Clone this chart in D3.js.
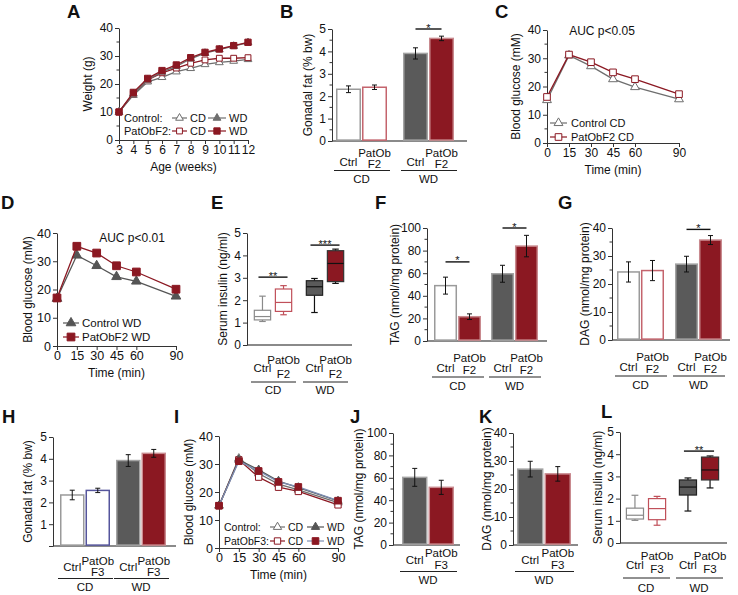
<!DOCTYPE html>
<html><head><meta charset="utf-8">
<script src="https://cdn.jsdelivr.net/npm/d3@7"></script>
<style>
body{margin:0;background:#fff}
svg{font-family:"Liberation Sans",Arial,Helvetica,sans-serif}
</style></head>
<body><svg id="c" width="738" height="595"></svg>
<script>
// ---------------- DATA ----------------
// Panel A: body weight
const weeks = [3,4,5,6,7,8,9,10,11,12];
const weightControlCD = [10,16,20.8,22.4,24.4,25.6,27,27.7,28.2,28.8];
const weightControlWD = [10,16.5,21.5,24.3,26.3,29,31,32.3,33.5,34.8];
const weightPatObF2CD = [10,16.5,21.5,24,25.7,27.4,28.6,29.2,29.2,29.4];
const weightPatObF2WD = [10,17,22,24.8,26.8,29.4,31.3,32.5,33.7,34.9];
const weightTicks = [0,10,20,30,40];

// GTT panels C, D, I
const gttTimes = [0,15,30,45,60,90];
const glucoseTicks = [0,10,20,30,40];
const gttControlCD_F2 = [15.2,31,27.2,22.6,19.8,15.5];
const gttPatObF2CD   = [16.3,31.3,28.6,25,22.6,17.3];
const gttControlWD_F2 = [16.8,32.1,28.4,24.5,22.9,17.6];
const gttPatObF2WD   = [17,35.3,32.9,28.4,26.2,20.1];
const gttControlCD_F3 = [15.1,32,26.6,22.8,20.8,16.2];
const gttControlWD_F3 = [15.1,31.5,27.9,23.9,21.6,16.8];
const gttPatObF3CD   = [15.1,31.5,25.3,21.7,20.2,15.4];
const gttPatObF3WD   = [15.1,31,27.5,23.6,21.8,16.9];

// categories
const diets = ['CD','WD'];
const dietWD = ['WD'];
const subKeys = ['Ctrl','PatOb'];

// Bar panels (order: Ctrl CD, PatOb CD, Ctrl WD, PatOb WD)
const gonadalF2 = [2.31,2.4,3.91,4.58];      const gonadalF2Err = [0.15,0.1,0.25,0.1];
const tagF2 = [49,21.5,59.5,84];             const tagF2Err = [7.5,2.5,7.5,9.5];
const dagF2 = [24.3,24.8,27.1,35.7];         const dagF2Err = [3.6,3.6,2.8,1.6];
const gonadalF3 = [2.34,2.55,3.92,4.25];     const gonadalF3Err = [0.22,0.1,0.27,0.18];
const tagF3 = [60.4,51.5];                   const tagF3Err = [8,6.3];     // WD only
const dagF3 = [27.1,25.4];                   const dagF3Err = [2.8,2.6];   // WD only
const ticks0to5 = [0,1,2,3,4,5];
const ticks0to100 = [0,20,40,60,80,100];
const ticks0to40 = [0,10,20,30,40];

// Box panels E, L: [min, q1, median, q3, max]
const insulinF2 = [[1.05,1.12,1.27,1.55,2.18],[1.35,1.5,1.9,2.5,2.65],[1.45,2.22,2.6,2.87,2.97],[2.75,2.83,3.64,4.21,4.28]];
const insulinF3 = [[1.02,1.08,1.25,1.57,2.15],[0.8,1.05,1.55,2.0,2.1],[1.44,2.16,2.52,2.84,2.93],[2.48,2.84,3.29,3.87,3.92]];

// ---------------- STYLE ----------------
const FONT = '"Liberation Sans",Arial,Helvetica,sans-serif';
const RED = '#8b1822', DARK = '#5a5a5a', GRAYL = '#6e6e6e';
const S_CTRL_CD = {fill:'#fff', stroke:'#9a9a9a'};
const S_PAT_CD  = {fill:'#fff', stroke:'#c4646d'};
const S_PAT3_CD = {fill:'#fff', stroke:'#55559c'};
const S_CTRL_WD = {fill:DARK, stroke:'#a3a3a3'};
const S_PAT_WD  = {fill:RED, stroke:'#c98a8f'};
const B_CTRL_CD = {fill:'#fff', stroke:'#8a8a8a', med:'#8a8a8a'};
const B_PAT_CD  = {fill:'#fff', stroke:'#c0505a', med:'#c0505a'};
const B_CTRL_WD = {fill:DARK, stroke:'#222', med:'#111'};
const B_PAT_WD  = {fill:RED, stroke:'#333', med:'#111'};
const LBL = 11.5;

const svg = d3.select('#c');

function txt(x,y,t,opt={}){
  const e = svg.append('text').attr('x',x).attr('y',y).text(t)
    .attr('font-size',opt.size||11.5).attr('text-anchor',opt.anchor||'start')
    .attr('fill',opt.fill||'#111').attr('font-family',FONT);
  if(opt.weight) e.attr('font-weight',opt.weight);
  if(opt.rotate) e.attr('transform',`rotate(-90,${x},${y})`);
  if(opt.dy) e.attr('dy',opt.dy);
  return e;
}
function letter(t,x,y){ txt(x,y,t,{size:18.5,weight:'bold'}); }
function yTitle(x,cy,t,size){ txt(x,cy,t,{anchor:'middle',rotate:true,dy:'0.35em',size:size||12}); }

function drawYAxis(y,x0,ticks,minorStep,hideZero,fs){
  const ax = d3.axisLeft(y).tickValues(ticks).tickSize(4).tickSizeOuter(0).tickPadding(2)
    .tickFormat(d => (hideZero && d===0) ? '' : d3.format('~g')(d));
  const g = svg.append('g').attr('transform',`translate(${x0},0)`).call(ax);
  g.selectAll('text').attr('font-size',fs||12).attr('fill','#111').attr('font-family',FONT);
  g.selectAll('line,path').attr('stroke','#333');
  if(minorStep){
    const [a,b] = y.domain();
    const minors = d3.range(a,b+1e-9,minorStep).filter(v=>!ticks.some(t=>Math.abs(t-v)<1e-9));
    g.selectAll('.mn').data(minors).join('line').attr('class','mn')
      .attr('x1',-2.5).attr('x2',0).attr('y1',d=>y(d)).attr('y2',d=>y(d)).attr('stroke','#333');
  }
}

function scalesFor(c){
  const y = d3.scaleLinear().domain([0,c.max]).range([c.yBot,c.yTop]);
  const n = c.groups.length;
  const outer = d3.scaleBand().domain(c.groups)
    .range([c.start, c.start + n*c.W + (n-1)*(c.gap||0)])
    .paddingInner(n>1 ? c.gap/(c.W+c.gap) : 0);
  const inner = d3.scaleBand().domain(subKeys).range([0,outer.bandwidth()]).paddingInner(c.innerPad ?? 0.04);
  return {y,outer,inner};
}
function center(outer,inner,i,groups){
  return outer(groups[Math.floor(i/2)]) + inner(subKeys[i%2]) + inner.bandwidth()/2;
}
function catLabels(c,outer,inner){
  const o = c.offs;
  c.groups.forEach(gk=>{
    const gx = outer(gk);
    subKeys.forEach((sk,i)=>{
      const cx = gx + inner(sk) + inner.bandwidth()/2;
      if(i===0) txt(cx,c.yBot+o.ctrl,'Ctrl',{anchor:'middle',size:LBL});
      else { txt(cx,c.yBot+o.pat,'PatOb',{anchor:'middle',size:LBL}); txt(cx,c.yBot+o.f,c.gen,{anchor:'middle',size:LBL}); }
    });
    svg.append('line').attr('x1',gx-2).attr('x2',gx+outer.bandwidth()+3)
      .attr('y1',c.yBot+o.line).attr('y2',c.yBot+o.line).attr('stroke','#222').attr('stroke-width',1);
    txt(gx+outer.bandwidth()/2,c.yBot+o.grp,gk,{anchor:'middle',size:LBL});
  });
}
function sigMark(x1,x2,yv,label){
  svg.append('line').attr('x1',x1).attr('x2',x2).attr('y1',yv).attr('y2',yv).attr('stroke','#111').attr('stroke-width',1.4);
  txt((x1+x2)/2,yv+2.5,label,{anchor:'middle',size:11});
}

function barPanel(c){
  const {y,outer,inner} = scalesFor(c);
  svg.append('line').attr('x1',c.x0).attr('x2',c.xEnd).attr('y1',c.yBot).attr('y2',c.yBot)
    .attr('stroke','#8a8a8a').attr('stroke-width',1.8);
  const recs = c.values.map((v,i)=>({i,v,e:c.errs[i],s:c.styles[i]}));
  svg.selectAll(null).data(recs).join('rect')
    .attr('x',d=>outer(c.groups[Math.floor(d.i/2)])+inner(subKeys[d.i%2])+0.75)
    .attr('width',inner.bandwidth()-1.5)
    .attr('y',d=>y(d.v)).attr('height',d=>c.yBot-y(d.v)-0.9)
    .attr('fill',d=>d.s.fill).attr('stroke',d=>d.s.stroke).attr('stroke-width',1.5);
  recs.forEach(d=>{
    const cx = center(outer,inner,d.i,c.groups);
    const g = svg.append('g').attr('stroke','#111').attr('stroke-width',1);
    g.append('line').attr('x1',cx).attr('x2',cx).attr('y1',y(d.v-d.e)).attr('y2',y(d.v+d.e));
    [d.v-d.e,d.v+d.e].forEach(t=>g.append('line').attr('x1',cx-2.5).attr('x2',cx+2.5).attr('y1',y(t)).attr('y2',y(t)));
  });
  drawYAxis(y,c.x0,c.ticks,c.minor,c.hideZero,12);
  catLabels(c,outer,inner);
  (c.sig||[]).forEach(s=>sigMark(center(outer,inner,s[0],c.groups),center(outer,inner,s[1],c.groups),y(s[2]),s[3]));
  yTitle(c.titleX,(c.yTop+c.yBot)/2,c.title);
  letter(c.letter,c.lx,c.ly);
}

function boxPanel(c){
  const {y,outer,inner} = scalesFor(c);
  svg.append('line').attr('x1',c.x0).attr('x2',c.xEnd).attr('y1',c.yBot).attr('y2',c.yBot)
    .attr('stroke','#8a8a8a').attr('stroke-width',1.8);
  c.boxes.forEach((b,i)=>{
    const st = c.styles[i];
    const wc = (st.stroke==='#333'||st.stroke==='#222') ? '#111' : st.stroke;
    const cx = center(outer,inner,i,c.groups);
    const w = inner.bandwidth()*0.86;
    const g = svg.append('g');
    g.append('line').attr('x1',cx).attr('x2',cx).attr('y1',y(b[0])).attr('y2',y(b[4])).attr('stroke',wc).attr('stroke-width',1.2);
    [b[0],b[4]].forEach(t=>g.append('line').attr('x1',cx-w*0.2).attr('x2',cx+w*0.2).attr('y1',y(t)).attr('y2',y(t))
      .attr('stroke',wc).attr('stroke-width',1.2));
    g.append('rect').attr('x',cx-w/2).attr('width',w).attr('y',y(b[3])).attr('height',y(b[1])-y(b[3]))
      .attr('fill',st.fill).attr('stroke',st.stroke).attr('stroke-width',1.2);
    g.append('line').attr('x1',cx-w/2).attr('x2',cx+w/2).attr('y1',y(b[2])).attr('y2',y(b[2])).attr('stroke',st.med).attr('stroke-width',1.2);
  });
  drawYAxis(y,c.x0,c.ticks,null,false,12);
  catLabels(c,outer,inner);
  (c.sig||[]).forEach(s=>sigMark(center(outer,inner,s[0],c.groups)-4,center(outer,inner,s[1],c.groups)+4,y(s[2]),s[3]));
  yTitle(c.titleX,(c.yTop+c.yBot)/2,c.title);
  letter(c.letter,c.lx,c.ly);
}

function marker(sel,x,y,s){
  sel.append('path').attr('transform',`translate(${x},${y})`)
    .attr('d',d3.symbol(s.shape==='sq'?d3.symbolSquare:d3.symbolTriangle,s.size)())
    .attr('fill',s.filled?s.color:'#fff').attr('stroke',s.color).attr('stroke-width',1);
}
function legendSym(x1,x2,yv,s){
  svg.append('line').attr('x1',x1).attr('x2',x2).attr('y1',yv).attr('y2',yv).attr('stroke',s.line||s.color).attr('stroke-width',1.2);
  marker(svg,(x1+x2)/2,yv,s);
}
function linePanel(c){
  const x = d3.scaleLinear().domain(c.xDomain).range(c.xRange);
  const y = d3.scaleLinear().domain([0,40]).range([c.yBot,c.yTop]);
  const xa = d3.axisBottom(x).tickValues(c.xTicks).tickSize(4).tickSizeOuter(0).tickPadding(1.5);
  const g = svg.append('g').attr('transform',`translate(0,${c.yBot})`).call(xa);
  g.selectAll('text').attr('font-size',c.fs||12).attr('fill','#111').attr('font-family',FONT);
  g.selectAll('line,path').attr('stroke','#333');
  drawYAxis(y,c.xRange[0],c.yTicks,c.minor,false,c.fs||12);
  c.series.forEach(s=>{
    const pts = c.xVals.map((xv,i)=>[xv,s.vals[i]]);
    svg.append('path').datum(pts).attr('d',d3.line().x(d=>x(d[0])).y(d=>y(d[1])))
      .attr('fill','none').attr('stroke',s.line||s.color).attr('stroke-width',1.3);
    const mg = svg.append('g');
    pts.forEach(p=>marker(mg,x(p[0]),y(p[1]),s));
  });
  txt((c.xRange[0]+c.xRange[1])/2,c.yBot+31,c.xTitle,{anchor:'middle',size:12});
  yTitle(c.titleX,(c.yTop+c.yBot)/2,c.title);
  letter(c.letter,c.lx,c.ly);
}

// ---------------- PANEL A ----------------
const sA = {
  cCD:{shape:'tri',filled:false,color:GRAYL,size:26},
  cWD:{shape:'tri',filled:true,color:GRAYL,size:26},
  pCD:{shape:'sq',filled:false,color:RED,size:34},
  pWD:{shape:'sq',filled:true,color:RED,size:40}
};
linePanel({xDomain:[3,12],xRange:[119,248],yTop:28,yBot:140,xTicks:weeks,yTicks:weightTicks,minor:5,xVals:weeks,
  series:[{...sA.cCD,vals:weightControlCD},{...sA.pCD,vals:weightPatObF2CD},{...sA.cWD,vals:weightControlWD},{...sA.pWD,vals:weightPatObF2WD}],
  xTitle:'Age (weeks)',title:'Weight (g)',titleX:88,letter:'A',lx:67,ly:18});
txt(124,122,'Control:',{size:11}); txt(124,135,'PatObF2:',{size:11});
legendSym(172,187,118,sA.cCD); txt(190,122,'CD',{size:11});
legendSym(208,226,118,sA.cWD); txt(229,122,'WD',{size:11});
legendSym(172,187,131,sA.pCD); txt(190,135,'CD',{size:11});
legendSym(208,226,131,sA.pWD); txt(229,135,'WD',{size:11});

// ---------------- PANEL B ----------------
barPanel({x0:332,xEnd:467,yTop:29,yBot:141,max:5,ticks:ticks0to5,minor:0.5,start:336,W:51,gap:16,
  groups:diets,values:gonadalF2,errs:gonadalF2Err,styles:[S_CTRL_CD,S_PAT_CD,S_CTRL_WD,S_PAT_WD],
  gen:'F2',offs:{ctrl:25,pat:16,f:27,line:29.5,grp:42},sig:[[2,3,5.0,'*']],
  title:'Gonadal fat (% bw)',titleX:308,letter:'B',lx:280,ly:18});

// ---------------- PANEL C ----------------
const sC = {
  cCD:{shape:'tri',filled:false,color:GRAYL,size:34},
  pCD:{shape:'sq',filled:false,color:RED,size:44}
};
linePanel({xDomain:[0,90],xRange:[547,679],yTop:30,yBot:143,xTicks:gttTimes,yTicks:glucoseTicks,minor:5,xVals:gttTimes,
  series:[{...sC.cCD,vals:gttControlCD_F2},{...sC.pCD,vals:gttPatObF2CD}],
  xTitle:'Time (min)',title:'Blood glucose (mM)',titleX:516,letter:'C',lx:495,ly:18});
txt(602,35,'AUC p<0.05',{anchor:'middle',size:12});
legendSym(550,567,123,sC.cCD); txt(571,127,'Control CD',{size:11});
legendSym(550,567,137,sC.pCD); txt(571,141,'PatObF2 CD',{size:11});

// ---------------- PANEL D ----------------
const sD = {
  cWD:{shape:'tri',filled:true,color:'#555',size:40},
  pWD:{shape:'sq',filled:true,color:RED,size:60}
};
linePanel({xDomain:[0,90],xRange:[57,176],yTop:233,yBot:346,xTicks:gttTimes,yTicks:glucoseTicks,minor:null,xVals:gttTimes,fs:12.5,
  series:[{...sD.cWD,vals:gttControlWD_F2},{...sD.pWD,vals:gttPatObF2WD}],
  xTitle:'Time (min)',title:'Blood glucose (mM)',titleX:28,letter:'D',lx:1,ly:209});
txt(132,242,'AUC p<0.01',{anchor:'middle',size:12});
legendSym(63,79,323,sD.cWD); txt(82,327,'Control WD',{size:11.5});
legendSym(63,79,337,sD.pWD); txt(82,341,'PatObF2 WD',{size:11.5});

// ---------------- PANEL E ----------------
boxPanel({x0:247,xEnd:352,yTop:233,yBot:345,max:5,ticks:ticks0to5,start:253,W:40,gap:12,innerPad:0.1,
  groups:diets,boxes:insulinF2,styles:[B_CTRL_CD,B_PAT_CD,B_CTRL_WD,B_PAT_WD],
  gen:'F2',offs:{ctrl:27,pat:19,f:33,line:37,grp:49},sig:[[0,1,3.03,'**'],[2,3,4.46,'***']],
  title:'Serum insulin (ng/ml)',titleX:223,letter:'E',lx:211,ly:209});

// ---------------- PANEL F ----------------
barPanel({x0:427,xEnd:547,yTop:228,yBot:341,max:100,ticks:ticks0to100,minor:10,start:434,W:47,gap:10,
  groups:diets,values:tagF2,errs:tagF2Err,styles:[S_CTRL_CD,S_PAT_WD,S_CTRL_WD,S_PAT_WD],
  gen:'F2',offs:{ctrl:31,pat:21,f:33,line:36,grp:49},sig:[[0,1,70,'*'],[2,3,100,'*']],
  title:'TAG (nmol/mg protein)',titleX:395,letter:'F',lx:375,ly:209});

// ---------------- PANEL G ----------------
barPanel({x0:612,xEnd:730,yTop:228,yBot:340,max:40,ticks:ticks0to40,minor:5,start:617,W:47,gap:11,
  groups:diets,values:dagF2,errs:dagF2Err,styles:[S_CTRL_CD,S_PAT_CD,S_CTRL_WD,S_PAT_WD],
  gen:'F2',offs:{ctrl:31,pat:21,f:33,line:36,grp:49},sig:[[2,3,39.5,'*']],
  title:'DAG (nmol/mg protein)',titleX:585,letter:'G',lx:558,ly:209});

// ---------------- PANEL H ----------------
barPanel({x0:53,xEnd:176,yTop:437,yBot:546,max:5,ticks:ticks0to5,hideZero:true,minor:null,start:60,W:50,gap:6,
  groups:diets,values:gonadalF3,errs:gonadalF3Err,styles:[S_CTRL_CD,S_PAT3_CD,S_CTRL_WD,S_PAT_WD],
  gen:'F3',offs:{ctrl:25,pat:19,f:30,line:32.5,grp:45},
  title:'Gonadal fat (% bw)',titleX:28,letter:'H',lx:2,ly:423});

// ---------------- PANEL I ----------------
const sI = {
  cCD:{shape:'tri',filled:false,color:GRAYL,size:30},
  cWD:{shape:'tri',filled:true,color:'#555',size:30},
  pCD:{shape:'sq',filled:false,color:RED,size:40},
  pWD:{shape:'sq',filled:true,color:RED,size:44,line:'#7d8fb3'}
};
linePanel({xDomain:[0,90],xRange:[219,338],yTop:436,yBot:548,xTicks:gttTimes,yTicks:glucoseTicks,minor:null,xVals:gttTimes,fs:12.5,
  series:[{...sI.cCD,vals:gttControlCD_F3},{...sI.pCD,vals:gttPatObF3CD},{...sI.cWD,vals:gttControlWD_F3},{...sI.pWD,vals:gttPatObF3WD}],
  xTitle:'Time (min)',title:'Blood glucose (mM)',titleX:189,letter:'I',lx:174,ly:423});
txt(224,531,'Control:',{size:10.5}); txt(224,545,'PatObF3:',{size:10.5});
legendSym(270,285,527,sI.cCD); txt(288,531,'CD',{size:10.5});
legendSym(307,324,527,sI.cWD); txt(327,531,'WD',{size:10.5});
legendSym(270,285,541,sI.pCD); txt(288,545,'CD',{size:10.5});
legendSym(307,324,541,sI.pWD); txt(327,545,'WD',{size:10.5});

// ---------------- PANEL J ----------------
barPanel({x0:393,xEnd:460,yTop:433,yBot:545,max:100,ticks:ticks0to100,minor:10,start:402,W:52,
  groups:dietWD,values:tagF3,errs:tagF3Err,styles:[S_CTRL_WD,S_PAT_WD],
  gen:'F3',offs:{ctrl:19,pat:12,f:24,line:26.5,grp:39},
  title:'TAG (nmol/mg protein)',titleX:359,letter:'J',lx:350,ly:423});

// ---------------- PANEL K ----------------
barPanel({x0:513,xEnd:578,yTop:433,yBot:545,max:40,ticks:ticks0to40,minor:5,start:517,W:54,
  groups:dietWD,values:dagF3,errs:dagF3Err,styles:[S_CTRL_WD,S_PAT_WD],
  gen:'F3',offs:{ctrl:19,pat:12,f:24,line:26.5,grp:39},
  title:'DAG (nmol/mg protein)',titleX:487,letter:'K',lx:479,ly:423});

// ---------------- PANEL L ----------------
boxPanel({x0:620,xEnd:727,yTop:432,yBot:543,max:5,ticks:ticks0to5,start:625,W:42,gap:11,innerPad:0.1,
  groups:diets,boxes:insulinF3,styles:[B_CTRL_CD,B_PAT_CD,B_CTRL_WD,B_PAT_WD],
  gen:'F3',offs:{ctrl:26,pat:17,f:30,line:35,grp:49},sig:[[2,3,4.14,'**']],
  title:'Serum insulin (ng/ml)',titleX:598,letter:'L',lx:601,ly:418});
</script></body></html>
